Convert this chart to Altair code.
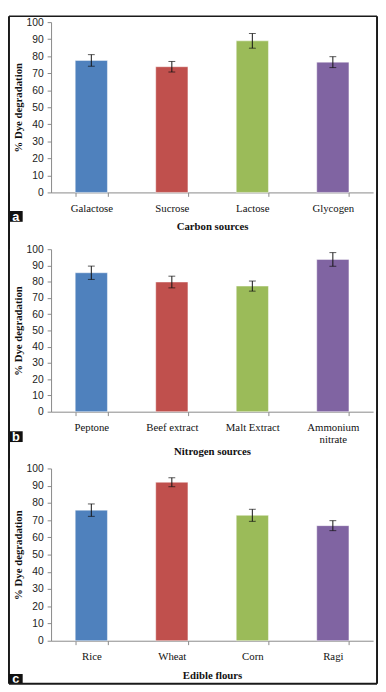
import altair as alt
import pandas as pd

carbon_labels = ["Galactose", "Sucrose", "Lactose", "Glycogen"]
carbon_values = [77.5, 73.8, 89.0, 76.5]
carbon_errors = [3.4, 3.1, 4.3, 3.2]

nitrogen_labels = ["Peptone", "Beef extract", "Malt Extract", "Ammonium nitrate"]
nitrogen_values = [85.5, 79.8, 77.3, 93.7]
nitrogen_errors = [4.1, 3.6, 3.1, 4.2]

flour_labels = ["Rice", "Wheat", "Corn", "Ragi"]
flour_values = [75.8, 92.0, 72.8, 66.8]
flour_errors = [3.6, 2.6, 3.5, 2.9]

y_ticks = [0, 10, 20, 30, 40, 50, 60, 70, 80, 90, 100]
bar_colors = ["#4F81BD", "#C0504D", "#9BBB59", "#8064A2"]

W = 329
S = 58
FRAME = "#1a1a1a"


def panel(labels, values, errors, title, letter, h, top, bottom, box_off, box_h, title_pad):
    df = pd.DataFrame({
        "cat": labels,
        "val": values,
        "lo": [v - e for v, e in zip(values, errors)],
        "hi": [v + e for v, e in zip(values, errors)],
    })
    x_axis = alt.Axis(
        title=title, labelAngle=0, tickBand="extent",
        labelExpr="datum.label == 'Ammonium nitrate' ? ['Ammonium', 'nitrate'] : datum.label",
        labelFont="Liberation Serif", labelFontSize=11, labelColor="#111",
        labelPadding=6, tickSize=4, tickColor="#888", domainColor="#888",
        titleFont="Liberation Serif", titleFontSize=11, titleFontWeight="bold",
        titleColor="#111", titlePadding=title_pad, labelLineHeight=12,
    )
    y_axis = alt.Axis(
        values=y_ticks, title="% Dye degradation", grid=False, labelOverlap=False,
        labelFont="Liberation Sans", labelFontSize=10.5, labelColor="#222",
        labelPadding=4, tickSize=4, tickColor="#888", domainColor="#888",
        titleFont="Liberation Serif", titleFontSize=11, titleFontWeight="bold",
        titleColor="#111", titlePadding=3,
    )
    xs = alt.Scale(paddingInner=0.6, paddingOuter=0.3)
    ys = alt.Scale(domain=[0, 100], nice=False)
    xe = alt.X("cat:N", sort=labels, scale=xs, axis=x_axis)
    base = alt.Chart(df)
    bars = base.mark_bar(stroke="white", strokeOpacity=0.45, strokeWidth=1).encode(
        x=xe,
        y=alt.Y("val:Q", scale=ys, axis=y_axis),
        color=alt.Color("cat:N", sort=labels,
                        scale=alt.Scale(domain=labels, range=bar_colors), legend=None),
    )
    err = base.mark_rule(color="#111", strokeWidth=1).encode(
        x=xe, y=alt.Y("lo:Q", scale=ys, axis=y_axis), y2="hi:Q")
    cap_lo = base.mark_tick(color="#111", size=7, thickness=1).encode(
        x=xe, y=alt.Y("lo:Q", scale=ys, axis=y_axis))
    cap_hi = base.mark_tick(color="#111", size=7, thickness=1).encode(
        x=xe, y=alt.Y("hi:Q", scale=ys, axis=y_axis))

    ldf = pd.DataFrame({"letter": [letter]})
    lbase = alt.Chart(ldf)
    box = lbase.mark_rect(color="#111").encode(
        x=alt.value(-43), x2=alt.value(-29),
        y=alt.value(h + box_off), y2=alt.value(h + box_off + box_h))
    txt = lbase.mark_text(color="white", font="Liberation Sans", fontSize=13,
                          fontWeight="bold", align="center", baseline="middle").encode(
        x=alt.value(-36), y=alt.value(h + box_off + box_h / 2 + 0.5), text="letter:N")
    left = lbase.mark_rule(color=FRAME, strokeWidth=2).encode(
        x=alt.value(-43), y=alt.value(top), y2=alt.value(bottom))
    right = lbase.mark_rule(color=FRAME, strokeWidth=2).encode(
        x=alt.value(W + 4), y=alt.value(top), y2=alt.value(bottom))
    layers = [bars, err, cap_lo, cap_hi, left, right, box, txt]
    return alt.layer(*layers).properties(width=W, height=h)


HA, HB, HC = 174, 166, 176

pa = panel(carbon_labels, carbon_values, carbon_errors, "Carbon sources", "a",
           HA, -6, HA + S, 19, 11, 7.5)
pb = panel(nitrogen_labels, nitrogen_values, nitrogen_errors, "Nitrogen sources", "b",
           HB, -S, HB + S, 20, 11, 2)
pc = panel(flour_labels, flour_values, flour_errors, "Edible flours", "c",
           HC, -S, 220, 34, 10, 8.5)

top_line = alt.Chart(pd.DataFrame({"k": [0]})).mark_rule(color=FRAME, strokeWidth=1.5).encode(
    x=alt.value(-43), x2=alt.value(W + 4), y=alt.value(-6))
bot_line = alt.Chart(pd.DataFrame({"k": [0]})).mark_rule(color=FRAME, strokeWidth=2).encode(
    x=alt.value(-43), x2=alt.value(W + 4), y=alt.value(220))

pa = alt.layer(pa, top_line)
pc = alt.layer(pc, bot_line)

chart = alt.vconcat(pa, pb, pc, spacing=S, bounds="flush").resolve_scale(
    color="independent", x="independent", y="independent"
).configure(padding=0, background="white", view=alt.ViewConfig(stroke=None))

chart.save("out.html", embed_options={"renderer": "svg", "actions": False})
